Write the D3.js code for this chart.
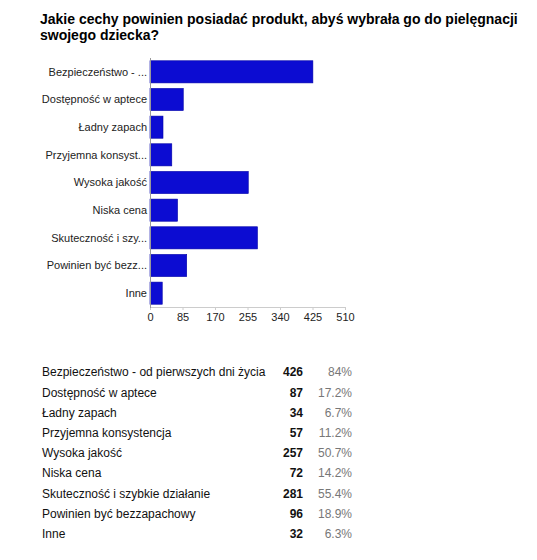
<!DOCTYPE html>
<html>
<head>
<meta charset="utf-8">
<script src="https://cdn.jsdelivr.net/npm/d3@7"></script>
<style>
	body { margin: 0; background: #fff; font-family: "Liberation Sans", Arial, sans-serif; }
</style>
</head>
<body>
<div id="chart"></div>
<script>
const titleLines = ['Jakie cechy powinien posiadać produkt, abyś wybrała go do pielęgnacji', 'swojego dziecka?'];
const categories = [
	'Bezpieczeństwo - od pierwszych dni życia',
	'Dostępność w aptece',
	'Ładny zapach',
	'Przyjemna konsystencja',
	'Wysoka jakość',
	'Niska cena',
	'Skuteczność i szybkie działanie',
	'Powinien być bezzapachowy',
	'Inne'
];
const shortLabels = [
	'Bezpieczeństwo - ...',
	'Dostępność w aptece',
	'Ładny zapach',
	'Przyjemna konsyst...',
	'Wysoka jakość',
	'Niska cena',
	'Skuteczność i szy...',
	'Powinien być bezz...',
	'Inne'
];
const counts = [426, 87, 34, 57, 257, 72, 281, 96, 32];
const percents = ['84%', '17.2%', '6.7%', '11.2%', '50.7%', '14.2%', '55.4%', '18.9%', '6.3%'];
const tickValues = [0, 85, 170, 255, 340, 425, 510];

const width = 537, height = 560;
const svg = d3.select('#chart').append('svg')
	.attr('width', width)
	.attr('height', height);

// title
svg.append('text')
	.attr('x', 40)
	.attr('y', 24)
	.attr('font-size', '14px')
	.attr('font-weight', 'bold')
	.attr('fill', '#000')
	.selectAll('tspan')
	.data(titleLines)
	.enter()
	.append('tspan')
	.attr('x', 40)
	.attr('dy', (d, i) => i == 0 ? 0 : 16)
	.text(d => d);

let x = d3.scaleLinear().domain([0, 510]).range([150, 345]);
let y = d3.scaleBand().domain(categories).range([58, 307]).paddingInner(0.2).paddingOuter(0.1);

// baseline + ticks
svg.append('line')
	.attr('x1', x(0)).attr('x2', x(510))
	.attr('y1', 307.5).attr('y2', 307.5)
	.attr('stroke', '#ccc');

let xAxis = svg.append('g')
	.attr('transform', 'translate(0,307)')
	.call(d3.axisBottom(x).tickValues(tickValues).tickSize(3).tickPadding(3).tickFormat(d3.format('d')));
xAxis.select('.domain').remove();
xAxis.selectAll('line').attr('stroke', '#ccc');
xAxis.selectAll('text')
	.attr('font-family', '"Liberation Sans", Arial, sans-serif')
	.attr('font-size', '11px')
	.attr('fill', '#222');

// bars
svg.selectAll('.bar')
	.data(categories)
	.enter()
	.append('rect')
	.attr('class', 'bar')
	.attr('x', x(0))
	.attr('y', d => y(d))
	.attr('width', (d, i) => x(counts[i]) - x(0))
	.attr('height', y.bandwidth())
	.attr('fill', '#0c0cd2')
	.attr('stroke', '#0000a8')
	.attr('stroke-width', 0.6);

// vertical axis
svg.append('line')
	.attr('x1', 150.5).attr('x2', 150.5)
	.attr('y1', 58).attr('y2', 308)
	.attr('stroke', '#999');

svg.selectAll('.catLabel')
	.data(categories)
	.enter()
	.append('text')
	.attr('class', 'catLabel')
	.attr('x', 147)
	.attr('y', d => y(d) + y.bandwidth() / 2)
	.attr('dy', '0.35em')
	.attr('text-anchor', 'end')
	.attr('font-size', '11px')
	.attr('fill', '#222')
	.text((d, i) => shortLabels[i]);

// table
let rowY = d3.scaleBand().domain(categories).range([362, 544]);
let rows = svg.selectAll('.row')
	.data(categories)
	.enter()
	.append('g')
	.attr('class', 'row')
	.attr('transform', d => 'translate(0,' + (rowY(d) + rowY.bandwidth() / 2) + ')');

rows.append('text')
	.attr('x', 42)
	.attr('dy', '0.35em')
	.attr('font-size', '12px')
	.attr('fill', '#111')
	.text(d => d);

rows.append('text')
	.attr('x', 303)
	.attr('dy', '0.35em')
	.attr('text-anchor', 'end')
	.attr('font-size', '12px')
	.attr('font-weight', 'bold')
	.attr('fill', '#111')
	.text((d, i) => counts[i]);

rows.append('text')
	.attr('x', 352)
	.attr('dy', '0.35em')
	.attr('text-anchor', 'end')
	.attr('font-size', '12px')
	.attr('fill', '#777')
	.text((d, i) => percents[i]);
</script>
</body>
</html>
